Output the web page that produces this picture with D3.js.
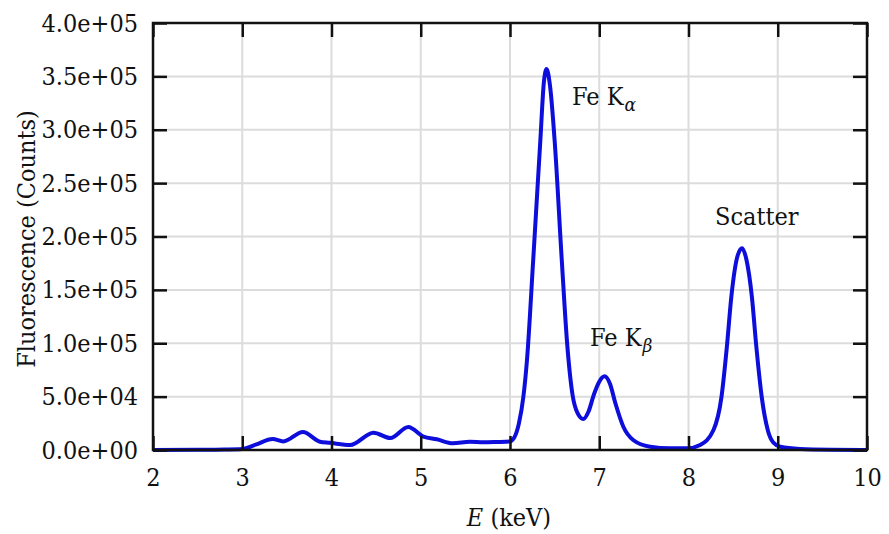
<!DOCTYPE html>
<html>
<head>
<meta charset="utf-8">
<script src="https://cdn.jsdelivr.net/npm/d3@7"></script>
<style>
  body { margin: 0; background: #fff; }
</style>
</head>
<body>
<svg id="chart" width="889" height="534"></svg>
<script>
var energie = [2.0, 2.5, 2.8, 3.0, 3.15, 3.34, 3.46, 3.68, 3.87, 3.98, 4.21, 4.47, 4.66, 4.86, 5.03, 5.18, 5.36, 5.55, 5.70, 5.85,
  6.0, 6.05, 6.1, 6.15, 6.19, 6.26, 6.34, 6.38, 6.41, 6.45, 6.5, 6.58, 6.64, 6.70, 6.76, 6.82, 6.88, 6.94, 7.0, 7.06, 7.12, 7.18, 7.27, 7.38,
  7.57, 7.79, 7.99, 8.13, 8.28, 8.37, 8.43, 8.48, 8.55, 8.60, 8.65, 8.71, 8.76, 8.82, 8.89, 8.95, 9.03, 9.25, 9.6, 10.0];
var comptes = [0, 200, 500, 1000, 5000, 10300, 8000, 16900, 7800, 6800, 4700, 16200, 11200, 21500, 12500, 10000, 6300, 7800, 7200, 7500,
  8000, 12000, 25000, 50000, 84000, 178000, 290000, 345000, 357000, 340000, 290000, 178000, 100000, 52000, 34000, 29000, 36000, 52000, 64000, 69000, 62000, 44000, 21800, 9400,
  3100, 1600, 1600, 4700, 18700, 50000, 96800, 143600, 182000, 189000, 178000, 143600, 96800, 50000, 18000, 7000, 3000, 900, 200, 0];

var ticksX = [2, 3, 4, 5, 6, 7, 8, 9, 10];
var ticksY = [0, 50000, 100000, 150000, 200000, 250000, 300000, 350000, 400000];

var marge = { gauche: 153, droite: 867, haut: 23, bas: 450 };
var svg = d3.select("#chart");
var police = "DejaVu Serif Condensed, DejaVu Serif";
var taille = 25;

var x = d3.scaleLinear().domain([2, 10]).range([marge.gauche, marge.droite]);
var y = d3.scaleLinear().domain([0, 400000]).range([marge.bas, marge.haut]);

// Grille
svg.append("g").selectAll("line").data(ticksX.slice(1, -1)).enter().append("line")
  .attr("x1", function (d) { return x(d); }).attr("x2", function (d) { return x(d); })
  .attr("y1", marge.haut).attr("y2", marge.bas)
  .attr("stroke", "#dcdcdc").attr("stroke-width", 2);
svg.append("g").selectAll("line").data(ticksY.slice(1, -1)).enter().append("line")
  .attr("y1", function (d) { return y(d); }).attr("y2", function (d) { return y(d); })
  .attr("x1", marge.gauche).attr("x2", marge.droite)
  .attr("stroke", "#dcdcdc").attr("stroke-width", 2);

// Courbe
var ligne = d3.line()
  .x(function (d, i) { return x(energie[i]); })
  .y(function (d) { return y(d); })
  .curve(d3.curveMonotoneX);
svg.append("path").datum(comptes)
  .attr("d", ligne)
  .attr("fill", "none")
  .attr("stroke", "#0d0ddc")
  .attr("stroke-width", 4)
  .attr("stroke-linejoin", "round");

// Axes (graduations vers l'interieur, sur les quatre cotes)
var formatY = function (d) { return d3.format(".1e")(d).replace(/e([+-])(\d)$/, "e$10$2"); };
var lt = 14;
svg.append("g").attr("transform", "translate(0," + marge.bas + ")")
  .call(d3.axisBottom(x).tickValues(ticksX).tickSize(-lt).tickPadding(18).tickFormat(d3.format("d")));
svg.append("g").attr("transform", "translate(0," + marge.haut + ")")
  .call(d3.axisTop(x).tickValues(ticksX).tickSize(-lt).tickFormat(""));
svg.append("g").attr("transform", "translate(" + marge.gauche + ",0)")
  .call(d3.axisLeft(y).tickValues(ticksY).tickSize(-lt).tickPadding(15).tickFormat(formatY));
svg.append("g").attr("transform", "translate(" + marge.droite + ",0)")
  .call(d3.axisRight(y).tickValues(ticksY).tickSize(-lt).tickFormat(""));

svg.selectAll(".domain").remove();
svg.selectAll("g").attr("font-family", police).attr("font-size", taille).attr("font-stretch", "condensed");
svg.selectAll(".tick line").attr("stroke", "#111").attr("stroke-width", 2.5);
svg.selectAll(".tick text").attr("fill", "#111");

// Cadre
svg.append("rect")
  .attr("x", marge.gauche).attr("y", marge.haut)
  .attr("width", marge.droite - marge.gauche).attr("height", marge.bas - marge.haut)
  .attr("fill", "none").attr("stroke", "#111").attr("stroke-width", 2.5);

// Textes
function texte (px, py) {
  return svg.append("text").attr("x", px).attr("y", py)
    .attr("font-size", taille).attr("font-family", police).attr("font-stretch", "condensed").attr("fill", "#111");
}

var tx = texte(509, 526).attr("text-anchor", "middle");
tx.append("tspan").attr("font-style", "italic").text("E");
tx.append("tspan").text(" (keV)");

texte(0, 0).attr("transform", "translate(35,239) rotate(-90)")
  .attr("text-anchor", "middle")
  .text("Fluorescence (Counts)");

// Annotations
function annoter (px, py, sub) {
  var t = texte(px, py);
  t.append("tspan").text("Fe K");
  t.append("tspan").attr("font-style", "italic").attr("font-size", 19).attr("dy", 6).attr("dx", 1).text(sub);
}
annoter(572, 105, "α");
annoter(590, 346, "β");
texte(715, 225).text("Scatter");
</script>
</body>
</html>
